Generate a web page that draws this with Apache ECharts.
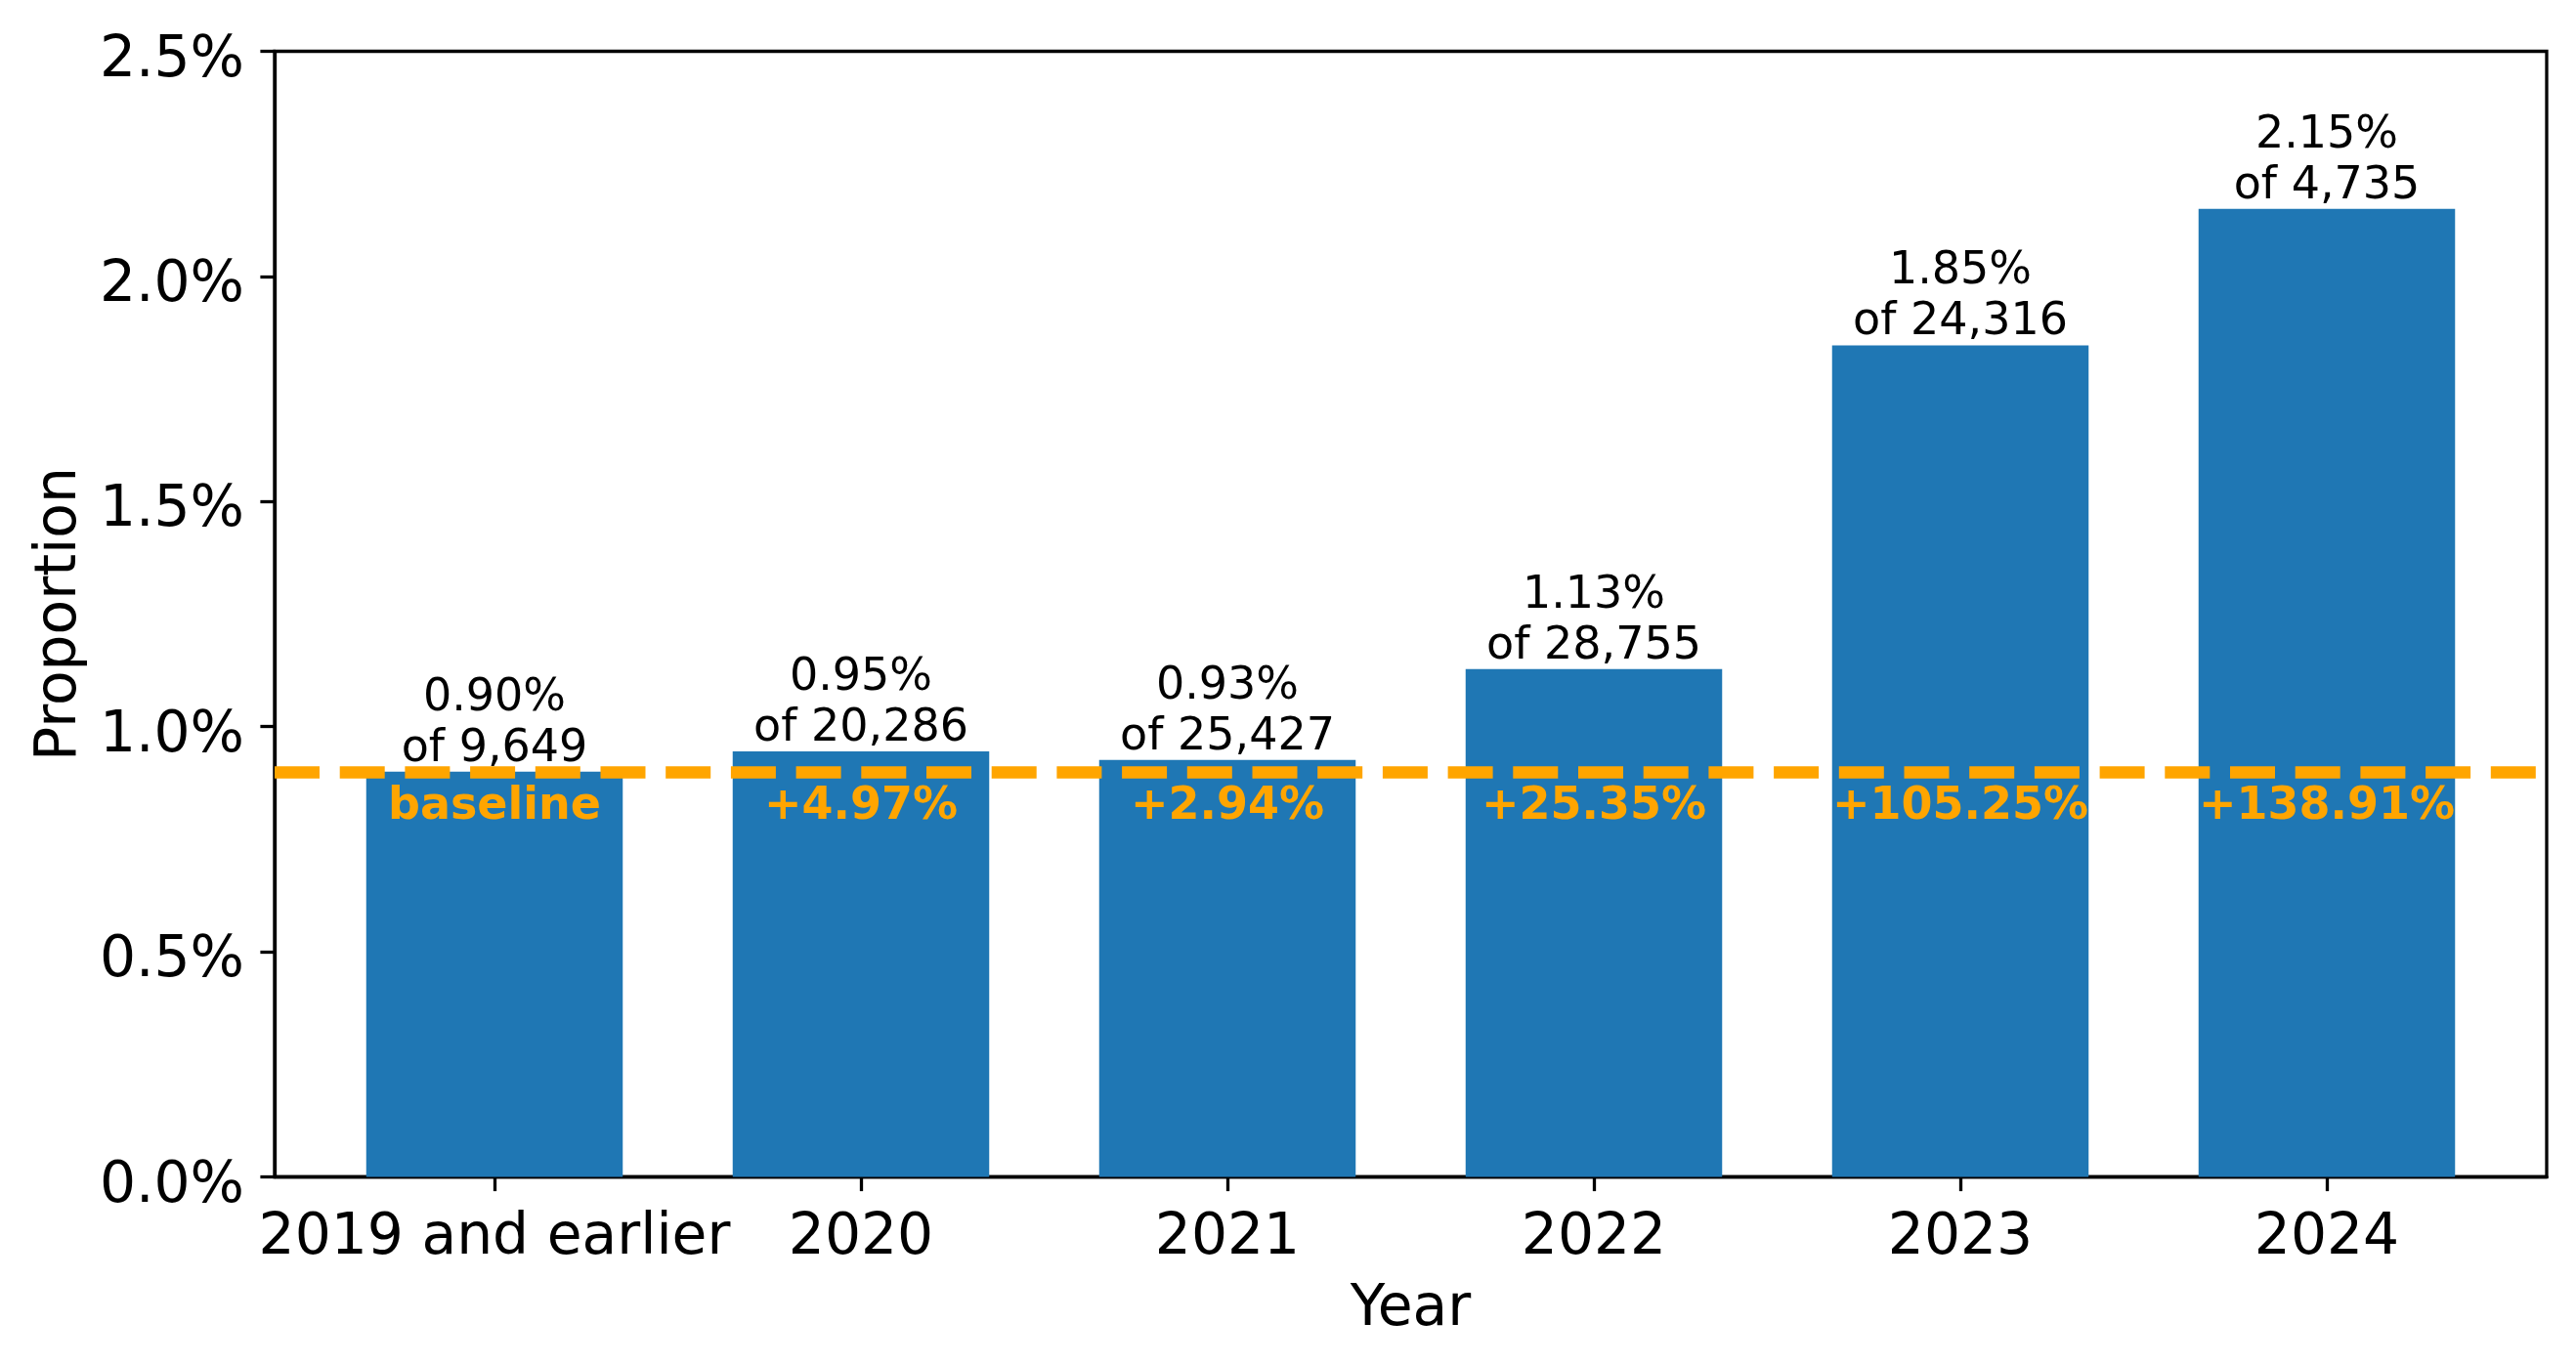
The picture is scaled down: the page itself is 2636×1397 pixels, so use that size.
<!DOCTYPE html>
<html>
<head>
<meta charset="utf-8">
<script src="https://cdn.jsdelivr.net/npm/echarts@6/dist/echarts.min.js"></script>
<style>
html,body{margin:0;padding:0;background:#fff;}
#chart{width:2636px;height:1397px;}
</style>
</head>
<body>
<div id="chart"></div>
<script>
const categories = ['2019 and earlier', '2020', '2021', '2022', '2023', '2024'];
const proportions = [0.900, 0.945, 0.926, 1.128, 1.847, 2.150];
const pctLabels = ['0.90%', '0.95%', '0.93%', '1.13%', '1.85%', '2.15%'];
const totals = ['9,649', '20,286', '25,427', '28,755', '24,316', '4,735'];
const changeLabels = ['baseline', '+4.97%', '+2.94%', '+25.35%', '+105.25%', '+138.91%'];
const baseline = 0.90;

const FONT = 'DejaVu Sans';
const chart = echarts.init(document.getElementById('chart'), null, {renderer: 'canvas'});
const idx = categories.map((c, i) => i);

chart.setOption({
  animation: false,
  backgroundColor: '#ffffff',
  grid: {
    left: 281, right: 30, top: 52.5, bottom: 192.5,
    show: true, borderColor: '#000', borderWidth: 3.3, backgroundColor: 'transparent'
  },
  xAxis: {
    type: 'value', min: -0.6, max: 5.6,
    name: 'Year', nameLocation: 'middle', nameGap: 107,
    nameTextStyle: {fontFamily: FONT, fontSize: 58.3, color: '#000'},
    axisLine: {show: true, onZero: false, lineStyle: {color: '#000', width: 3.3}},
    axisTick: {show: true, length: 14.6, lineStyle: {color: '#000', width: 3.3}, customValues: idx},
    axisLabel: {
      show: true, customValues: idx, margin: 34,
      fontFamily: FONT, fontSize: 58.3, color: '#000',
      formatter: v => categories[Math.round(v)]
    },
    splitLine: {show: false}
  },
  yAxis: {
    type: 'value', min: 0, max: 2.5, interval: 0.5,
    name: 'Proportion', nameLocation: 'middle', nameGap: 189, nameRotate: 90,
    nameTextStyle: {fontFamily: FONT, fontSize: 58.3, color: '#000'},
    axisLine: {show: true, onZero: false, lineStyle: {color: '#000', width: 3.3}},
    axisTick: {show: true, length: 14.6, lineStyle: {color: '#000', width: 3.3}},
    axisLabel: {
      margin: 31, fontFamily: FONT, fontSize: 58.3, color: '#000',
      verticalAlign: 'top', lineHeight: 20,
      formatter: v => v.toFixed(1) + '%'
    },
    splitLine: {show: false}
  },
  series: [
    {
      type: 'bar',
      barWidth: 262.5,
      data: idx.map(i => [i, proportions[i]]),
      itemStyle: {color: '#1f77b4'},
      label: {
        show: true, position: 'top', distance: -3,
        fontFamily: FONT, fontSize: 46, lineHeight: 52, color: '#000', align: 'center',
        formatter: p => pctLabels[p.dataIndex] + '\nof ' + totals[p.dataIndex]
      },
      markLine: {
        silent: true, symbol: ['none', 'none'],
        label: {show: false},
        lineStyle: {color: '#FFA500', width: 12.5, type: [46, 20.7], opacity: 1},
        emphasis: {disabled: true},
        data: [{yAxis: baseline}],
        z: 5
      }
    },
    {
      type: 'scatter',
      symbolSize: 0,
      data: idx.map(i => [i, baseline]),
      z: 10,
      itemStyle: {opacity: 1},
      label: {
        show: true, position: 'bottom', distance: 13,
        fontFamily: FONT, fontSize: 46, fontWeight: 'bold', lineHeight: 46, color: '#FFA500',
        textBorderWidth: 0, opacity: 1,
        formatter: p => changeLabels[p.dataIndex]
      }
    }
  ]
});
</script>
</body>
</html>
